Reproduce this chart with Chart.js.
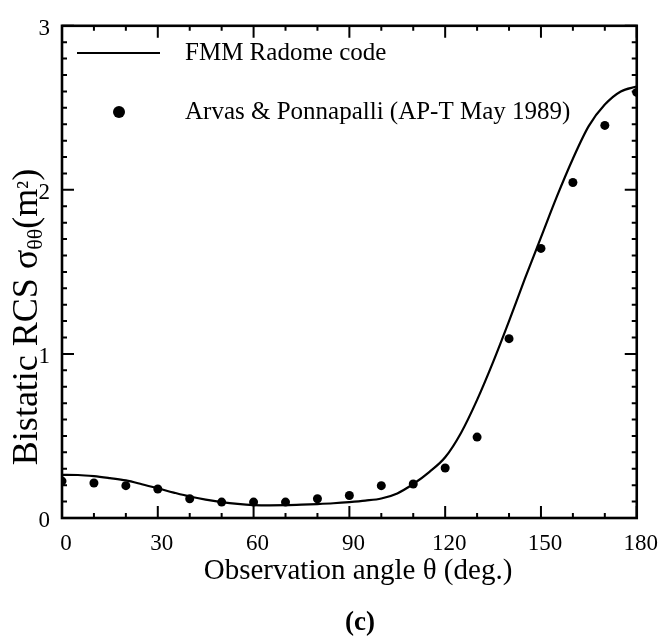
<!DOCTYPE html>
<html>
<head>
<meta charset="utf-8">
<script src="https://cdn.jsdelivr.net/npm/chart.js@4/dist/chart.umd.min.js"></script>
<style>
  body { margin: 0; background: #fff; }
  #wrap { width: 666px; height: 644px; }
</style>
</head>
<body>
<div id="wrap"><canvas id="rcsChart"></canvas></div>
<script>
// FMM Radome code curve (every 5 deg)
const curveAngles = [0, 5, 10, 15, 20, 25, 30, 35, 40, 45, 50, 55, 60, 65, 70, 75, 80, 85, 90,
    95, 100, 105, 110, 115, 120, 125, 130, 135, 140, 145, 150, 155, 160, 165, 170, 175, 180];
const curveValues = [0.263, 0.262, 0.255, 0.243, 0.229, 0.206, 0.181, 0.155, 0.131, 0.112, 0.097,
    0.086, 0.079, 0.077, 0.078, 0.081, 0.085, 0.090, 0.097, 0.106, 0.119, 0.150, 0.207, 0.280,
    0.370, 0.520, 0.720, 0.950, 1.200, 1.460, 1.710, 1.960, 2.190, 2.390, 2.520, 2.600, 2.630];

// Arvas & Ponnapalli points
const dotAngles = [0, 10, 20, 30, 40, 50, 60, 70, 80, 90, 100, 110, 120, 130, 140, 150, 160, 170, 180];
const dotValues = [0.225, 0.213, 0.197, 0.177, 0.117, 0.097, 0.097, 0.097, 0.117, 0.137, 0.197,
    0.207, 0.305, 0.493, 1.093, 1.643, 2.045, 2.393, 2.594];

const xTickStep = 30;
const yTickStep = 1;
const legendLabels = ['FMM Radome code', 'Arvas & Ponnapalli (AP-T May 1989)'];

const serif = "'Liberation Serif', 'Times New Roman', serif";

// Inward ticks on all four sides, frame, legend and texts
const framePlugin = {
    id: 'frame',
    afterDraw(chart) {
        const ctx = chart.ctx;
        const a = chart.chartArea;
        const xs = chart.scales.x;
        const ys = chart.scales.y;
        ctx.save();
        ctx.strokeStyle = '#000';
        ctx.lineWidth = 2;
        ctx.beginPath();
        for (let v = 0; v <= 180; v += 10) {
            const px = xs.getPixelForValue(v);
            const len = v % 30 === 0 ? 12 : 5;
            ctx.moveTo(px, a.bottom); ctx.lineTo(px, a.bottom - len);
            ctx.moveTo(px, a.top); ctx.lineTo(px, a.top + len);
        }
        for (let i = 0; i <= 30; i++) {
            const py = ys.getPixelForValue(i / 10);
            const len = i % 10 === 0 ? 12 : 5;
            ctx.moveTo(a.left, py); ctx.lineTo(a.left + len, py);
            ctx.moveTo(a.right, py); ctx.lineTo(a.right - len, py);
        }
        ctx.stroke();
        ctx.lineWidth = 2.6;
        ctx.strokeRect(a.left, a.top, a.right - a.left, a.bottom - a.top);

        // legend
        ctx.lineWidth = 2;
        ctx.beginPath();
        ctx.moveTo(77, 53); ctx.lineTo(160, 53);
        ctx.stroke();
        ctx.fillStyle = '#000';
        ctx.beginPath();
        ctx.arc(119, 112, 6, 0, Math.PI * 2);
        ctx.fill();
        ctx.font = '25px ' + serif;
        ctx.textBaseline = 'middle';
        ctx.textAlign = 'left';
        ctx.fillText(legendLabels[0], 185, 53);
        ctx.fillText(legendLabels[1], 185, 112);

        // x title and panel label
        ctx.textAlign = 'center';
        ctx.font = '29px ' + serif;
        ctx.fillText('Observation angle \u03b8 (deg.)', 358, 571);
        ctx.font = 'bold 27px ' + serif;
        ctx.fillText('(c)', 360, 623);

        // y title with subscript / superscript
        ctx.translate(37, 317);
        ctx.rotate(-Math.PI / 2);
        ctx.textBaseline = 'alphabetic';
        ctx.textAlign = 'left';
        const parts = [
            ['Bistatic RCS \u03c3', 36, 0],
            ['\u03b8\u03b8', 22, 5],
            ['(m', 36, 0],
            ['\u00b2', 26, -2],
            [')', 36, 0]
        ];
        let total = 0;
        parts.forEach(p => { ctx.font = p[1] + 'px ' + serif; total += ctx.measureText(p[0]).width; });
        let x = -total / 2;
        parts.forEach(p => {
            ctx.font = p[1] + 'px ' + serif;
            ctx.fillText(p[0], x, p[2]);
            x += ctx.measureText(p[0]).width;
        });
        ctx.restore();
    }
};

const ctx = document.getElementById('rcsChart').getContext('2d');
new Chart(ctx, {
    type: 'line',
    data: {
        datasets: [
            {
                label: legendLabels[0],
                data: curveAngles.map((a, i) => ({ x: a, y: curveValues[i] })),
                borderColor: '#000',
                borderWidth: 2.2,
                pointRadius: 0,
                cubicInterpolationMode: 'monotone',
                fill: false
            },
            {
                label: legendLabels[1],
                data: dotAngles.map((a, i) => ({ x: a, y: dotValues[i] })),
                showLine: false,
                pointRadius: 4.5,
                pointBackgroundColor: '#000',
                pointBorderWidth: 0
            }
        ]
    },
    options: {
        responsive: true,
        maintainAspectRatio: false,
        animation: false,
        layout: { padding: { top: 16, right: 21, left: 0, bottom: 0 } },
        plugins: {
            legend: { display: false },
            tooltip: { enabled: false }
        },
        scales: {
            x: {
                type: 'linear',
                min: 0,
                max: 180,
                grid: { display: false, drawTicks: false },
                border: { display: false },
                ticks: {
                    stepSize: xTickStep,
                    color: '#000',
                    font: { family: serif, size: 23 },
                    padding: 12,
                    labelOffset: 4,
                    maxRotation: 0
                },
                afterFit(scale) { scale.height = 126; }
            },
            y: {
                min: 0,
                max: 3,
                grid: { display: false, drawTicks: false },
                border: { display: false },
                ticks: {
                    stepSize: yTickStep,
                    color: '#000',
                    font: { family: serif, size: 23 },
                    padding: 12,
                    labelOffset: 3
                },
                afterFit(scale) { scale.width = 62; }
            }
        }
    },
    plugins: [framePlugin]
});
</script>
</body>
</html>
